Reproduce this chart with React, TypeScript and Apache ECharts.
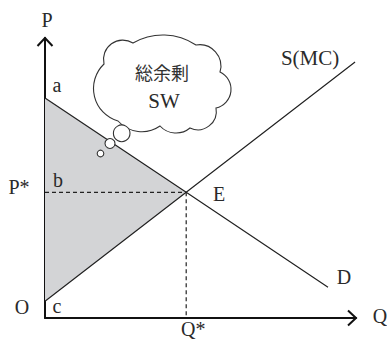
import React, { useEffect, useRef } from 'react';
import * as echarts from 'echarts';

// ---- data (value units of the Q / P axes) ----
const qRange = [0, 10];
const pRange = [0, 10];
const supplyCurve = [[0, 0.6], [4.54, 4.49], [9.97, 9.14]];
const demandCurve = [[0, 7.86], [4.54, 4.49], [9.1, 1.1]];
const equilibrium = [4.54, 4.49];
const surplusArea = [[0, 7.86], [4.54, 4.49], [0, 0.6]];
const axisNames = ['Q', 'P'];
const pointNames = ['a', 'b', 'c', 'O', 'E', 'D', 'S(MC)'];
const starLabels = ['P*', 'Q*'];
const cloudText = ['総余剰', 'SW'];

// ---- cloud decoration (pixel geometry) ----
function bumpArc(x0: number, y0: number, x1: number, y1: number, b: number) {
  const L = Math.hypot(x1 - x0, y1 - y0);
  const r = (b * b + (L / 2) * (L / 2)) / (2 * b);
  const large = b > L / 2 ? 1 : 0;
  return `A ${r.toFixed(2)} ${r.toFixed(2)} 0 ${large} 1 ${x1} ${y1}`;
}
function cloudPath() {
  const n: number[][] = [
    [104, 64, 12],
    [133, 43, 9],
    [196, 45, 10],
    [220, 72, 13],
    [216, 108, 10],
    [190, 128, 6],
    [160, 126, 8],
    [118, 121, 17],
  ];
  let d = `M ${n[0][0]} ${n[0][1]} `;
  for (let i = 0; i < n.length; i++) {
    const a = n[i];
    const b = n[(i + 1) % n.length];
    d += bumpArc(a[0], a[1], b[0], b[1], a[2]) + ' ';
  }
  return d + 'Z';
}
echarts.graphic.registerShape('cloud', echarts.graphic.extendPath(cloudPath(), {}));

const SERIF = 'Liberation Serif, DejaVu Serif, serif';
const CJK = 'Noto Sans CJK JP, sans-serif';
const INK = '#2a2a2a';

export default function App() {
  const ref = useRef<HTMLDivElement>(null);
  useEffect(() => {
    if (!ref.current) return;
    const chart = echarts.init(ref.current, undefined, { renderer: 'svg' });
    const axisCommon = {
      type: 'value' as const,
      axisLine: { show: true, lineStyle: { color: '#111', width: 2 } },
      axisTick: { show: false },
      axisLabel: { show: false },
      splitLine: { show: false },
    };
    const line = (data: number[][], dashed = false) => ({
      type: 'line',
      data,
      symbol: 'none',
      silent: true,
      lineStyle: { color: '#222', width: 1.2, type: dashed ? [4, 3] : 'solid' },
      z: 3,
    });
    chart.setOption({
      animation: false,
      textStyle: { fontFamily: SERIF },
      grid: { left: 45, right: 31, top: 38, bottom: 22 },
      xAxis: { ...axisCommon, min: qRange[0], max: qRange[1] },
      yAxis: { ...axisCommon, min: pRange[0], max: pRange[1] },
      series: [
        {
          type: 'custom',
          clip: false,
          z: 1,
          data: [[0, 0]],
          renderItem: (_p: any, api: any) => ({
            type: 'polygon',
            shape: { points: surplusArea.map((v) => api.coord(v)) },
            style: { fill: '#d3d4d6', stroke: null },
          }),
        },
        line(supplyCurve),
        line(demandCurve),
        line([[0, equilibrium[1]], [equilibrium[0], equilibrium[1]]], true),
        line([[equilibrium[0], equilibrium[1]], [equilibrium[0], 0]], true),
        {
          type: 'custom',
          clip: false,
          z: 5,
          data: [[qRange[1], pRange[0], 0], [qRange[0], pRange[1], 1]],
          renderItem: (_p: any, api: any) => {
            const p = api.coord([api.value(0), api.value(1)]);
            const up = api.value(2) === 1;
            const pts = up
              ? [[p[0] - 7.5, p[1] + 8], [p[0], p[1]], [p[0] + 7.5, p[1] + 8]]
              : [[p[0] - 8, p[1] - 7.5], [p[0], p[1]], [p[0] - 8, p[1] + 7.5]];
            return {
              type: 'polyline',
              shape: { points: pts },
              style: { stroke: '#111', lineWidth: 2, fill: 'none' },
            };
          },
        },
      ],
    });

    const px = (v: number[]) => chart.convertToPixel({ gridIndex: 0 }, v) as number[];
    const textEl = (text: string, x: number, y: number, size: number, family: string, fill = INK) => ({
      type: 'text',
      x,
      y,
      z: 120,
      style: {
        text,
        fill,
        fontSize: size,
        fontFamily: family,
        align: 'center',
        verticalAlign: 'middle',
      },
    });
    const txt = (text: string, at: number[], dx: number, dy: number, size = 20) => {
      const p = px(at);
      return textEl(text, p[0] + dx, p[1] + dy, size, SERIF);
    };
    const sEnd = supplyCurve[supplyCurve.length - 1];
    const dEnd = demandCurve[demandCurve.length - 1];
    const bubble = (cx: number, cy: number, r: number) => ({
      type: 'circle', z: 100, shape: { cx, cy, r }, style: { fill: '#fff', stroke: '#333', lineWidth: 1.1 },
    });
    const graphics: any[] = [
      { type: 'cloud', x: 0, y: 0, z: 100, style: { fill: '#fff', stroke: '#333', lineWidth: 1.1 } },
      bubble(121.7, 133.3, 8.3),
      bubble(110, 143.5, 5),
      bubble(100.5, 153.5, 3.3),
      textEl(cloudText[0], 162, 72, 18, CJK, '#333'),
      textEl(cloudText[1], 164, 101, 21, SERIF),
      txt(axisNames[1], [qRange[0], pRange[1]], 2, -18),
      txt(axisNames[0], [qRange[1], pRange[0]], 24, -2),
      txt(pointNames[0], [0, demandCurve[0][1]], 12, -13),
      txt(pointNames[1], [0, equilibrium[1]], 13, -12),
      txt(pointNames[2], [0, supplyCurve[0][1]], 12, 5),
      txt(pointNames[3], [0, 0], -23, -11),
      txt(pointNames[4], equilibrium, 33, 2),
      txt(pointNames[5], dEnd, 16, -10),
      txt(pointNames[6], sEnd, -45, -4, 21),
      txt(starLabels[0], [0, equilibrium[1]], -26, -5),
      txt(starLabels[1], [equilibrium[0], 0], 7, 11),
    ];
    chart.setOption({ graphic: graphics });
    return () => chart.dispose();
  }, []);
  return <div ref={ref} style={{ width: 387, height: 340, position: 'absolute', left: 0, top: 0 }} />;
}
